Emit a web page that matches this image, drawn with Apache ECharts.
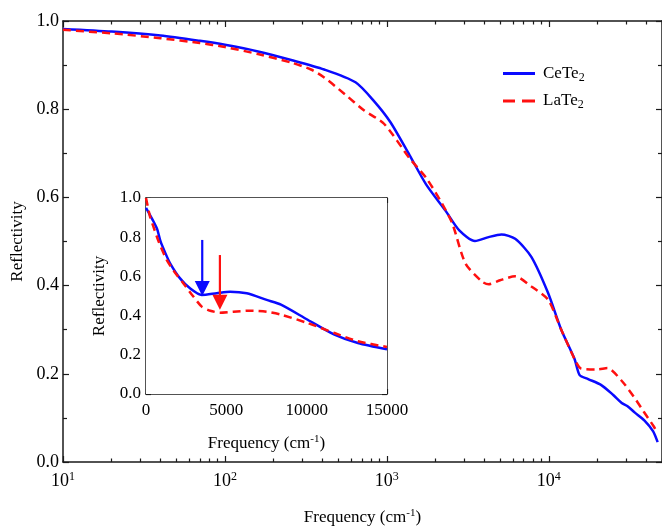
<!DOCTYPE html>
<html><head><meta charset="utf-8">
<script src="https://cdn.jsdelivr.net/npm/echarts@6/dist/echarts.min.js"></script>
<style>html,body{margin:0;padding:0;background:#fff}#c{width:662px;height:531px}</style>
</head><body><div id="c"></div>
<script>
// ---- Main panel (log frequency axis) ----
const ceFreq = [10, 20, 40, 70, 100, 160, 260, 410, 640, 830, 1050, 1380, 1750, 2300, 2800, 3500, 4250, 5100, 6200, 7800, 9900, 11900, 14400, 15500, 17500, 21000, 25000, 28200, 30500, 34000, 39000, 44000, 47000];
const ceRefl = [0.982, 0.976, 0.967, 0.955, 0.946, 0.931, 0.911, 0.890, 0.861, 0.819, 0.771, 0.696, 0.629, 0.570, 0.525, 0.501, 0.510, 0.516, 0.506, 0.465, 0.383, 0.301, 0.234, 0.197, 0.188, 0.175, 0.152, 0.134, 0.127, 0.112, 0.094, 0.070, 0.045];
const laFreq = [10, 20, 40, 70, 100, 160, 260, 340, 410, 550, 725, 960, 1380, 1750, 2200, 2540, 3060, 3870, 4250, 5000, 6200, 7800, 9900, 11900, 14400, 15800, 19900, 23000, 27900, 33500, 38600, 44400, 47000];
const laRefl = [0.980, 0.972, 0.961, 0.950, 0.941, 0.925, 0.905, 0.890, 0.872, 0.834, 0.797, 0.767, 0.689, 0.644, 0.585, 0.540, 0.450, 0.409, 0.403, 0.412, 0.421, 0.398, 0.368, 0.301, 0.234, 0.212, 0.210, 0.213, 0.186, 0.148, 0.114, 0.081, 0.065];

// ---- Inset panel (linear frequency axis) ----
const ceInsetFreq = [0, 200, 500, 700, 900, 1200, 1500, 2120, 2740, 3470, 4400, 5230, 6270, 7510, 8400, 10060, 11730, 13190, 15000];
const ceInsetRefl = [0.950, 0.920, 0.875, 0.840, 0.780, 0.720, 0.667, 0.590, 0.539, 0.505, 0.514, 0.522, 0.514, 0.480, 0.456, 0.379, 0.303, 0.260, 0.228];
const laInsetFreq = [0, 250, 460, 800, 1290, 1800, 2320, 2950, 3470, 4000, 4600, 5440, 6480, 7510, 8400, 10060, 11730, 13190, 15000];
const laInsetRefl = [1.000, 0.905, 0.854, 0.775, 0.684, 0.620, 0.565, 0.497, 0.446, 0.425, 0.415, 0.420, 0.425, 0.420, 0.405, 0.362, 0.311, 0.269, 0.240];

// arrows in inset
const arrowFreq = [3500, 4600];
const arrowFrom = [0.786, 0.709];
const arrowTo = [0.500, 0.430];

// tick values
const mainMajorX = [10, 100, 1000, 10000];
const mainMinorX = [20,30,40,50,60,70,80,90,200,300,400,500,600,700,800,900,2000,3000,4000,5000,6000,7000,8000,9000,20000,30000,40000,50000];
const seriesNames = ['CeTe2', 'LaTe2'];

const BLUE = '#0a0aff', RED = '#ff1010';
const FONT = 'Liberation Serif';
const AX = '#1a1a1a';
const supRich = { sup: { fontSize: 12, fontFamily: FONT, color: '#000', verticalAlign: 'top', padding: [0, 0, 8, 0] }, n: { fontSize: 18, fontFamily: FONT, color: '#000' } };
const supRichSm = { sup: { fontSize: 11, fontFamily: FONT, color: '#000', verticalAlign: 'top', padding: [0, 0, 8, 0] } };

function zip(a, b) { return a.map((v, i) => [v, b[i]]); }

function logAxis(pos, ticks, len, labels, line) {
  return {
    type: 'log', logBase: 10, min: 10, max: 50000, gridIndex: 0, position: pos,
    axisLine: { show: line, onZero: false, lineStyle: { color: AX, width: 1.5 } },
    axisTick: { show: true, inside: true, length: len, customValues: ticks, lineStyle: { color: AX, width: 1.2 } },
    axisLabel: labels ? {
      show: true, customValues: ticks, margin: 9, fontSize: 18, fontFamily: FONT, color: '#000',
      formatter: v => '{n|10}{sup|' + Math.round(Math.log10(v)) + '}', rich: supRich
    } : { show: false },
    splitLine: { show: false }, minorTick: { show: false }
  };
}

const xAxes = [
  Object.assign(logAxis('bottom', mainMajorX, 6, true, true), {
    name: 'Frequency (cm{sup|-1})', nameLocation: 'middle', nameGap: 46,
    nameTextStyle: { fontSize: 17, fontFamily: FONT, color: '#000', rich: supRichSm }
  }),
  logAxis('bottom', mainMinorX, 3.5, false, false),
  logAxis('top', mainMajorX, 6, false, true),
  logAxis('top', mainMinorX, 3.5, false, false),
  {
    type: 'value', gridIndex: 1, min: 0, max: 15000, interval: 5000, position: 'bottom',
    axisLine: { onZero: false, lineStyle: { color: AX, width: 1.5 } },
    axisTick: { inside: true, length: 5, lineStyle: { color: AX, width: 1.2 } },
    minorTick: { show: true, splitNumber: 2, length: 5, lineStyle: { color: AX, width: 1.2 } },
    axisLabel: { margin: 8, fontSize: 17, fontFamily: FONT, color: '#000', formatter: v => String(v) },
    splitLine: { show: false },
    name: 'Frequency (cm{sup|-1})', nameLocation: 'middle', nameGap: 40,
    nameTextStyle: { fontSize: 17, fontFamily: FONT, color: '#000', rich: supRichSm }
  },
  {
    type: 'value', gridIndex: 1, min: 0, max: 15000, interval: 5000, position: 'top',
    axisLine: { onZero: false, lineStyle: { color: AX, width: 1.5 } },
    axisTick: { inside: true, length: 5, lineStyle: { color: AX, width: 1.2 } },
    minorTick: { show: true, splitNumber: 2, length: 5, lineStyle: { color: AX, width: 1.2 } },
    axisLabel: { show: false }, splitLine: { show: false }
  }
];

function yAxis(grid, pos, labels, name, nameGap, fs, margin, majorLen, minorLen) {
  const o = {
    type: 'value', gridIndex: grid, min: 0, max: 1, interval: 0.2, position: pos,
    axisLine: { onZero: false, lineStyle: { color: AX, width: 1.5 } },
    axisTick: { inside: true, length: majorLen, lineStyle: { color: AX, width: 1.2 } },
    minorTick: { show: true, splitNumber: 2, length: minorLen, lineStyle: { color: AX, width: 1.2 } },
    axisLabel: labels ? { margin: margin, fontSize: fs, fontFamily: FONT, color: '#000', formatter: v => v.toFixed(1) } : { show: false },
    splitLine: { show: false }
  };
  if (name) {
    o.name = name; o.nameLocation = 'middle'; o.nameGap = nameGap;
    o.nameTextStyle = { fontSize: 17, fontFamily: FONT, color: '#000' };
  }
  return o;
}

const yAxes = [
  yAxis(0, 'left', true, 'Reflectivity', 37, 18, 4, 6, 4),
  yAxis(0, 'right', false, null, 0, 0, 0, 6, 4),
  yAxis(1, 'left', true, 'Reflectivity', 38, 17, 5, 5, 5),
  yAxis(1, 'right', false, null, 0, 0, 0, 5, 5)
];

const lineBase = { type: 'line', symbol: 'none', smooth: 0.25, z: 3 };

const option = {
  backgroundColor: '#fff',
  animation: false,
  grid: [
    { left: 63, top: 21, right: -5, bottom: 63 },
    { left: 146, top: 198, width: 241, height: 196, show: true, backgroundColor: '#fff', borderWidth: 0, z: 1 }
  ],
  xAxis: xAxes,
  yAxis: yAxes,
  legend: {
    data: [
      { name: seriesNames[0], icon: 'path://M0,0H32V3H0Z' },
      { name: seriesNames[1], icon: 'path://M0,0H12V3H0ZM19,0H32V3H19Z' }
    ],
    orient: 'vertical', left: 498, top: 60,
    itemWidth: 32, itemHeight: 3, itemGap: 9,
    textStyle: { fontSize: 17, fontFamily: FONT, color: '#000', padding: [0, 0, 0, 3], rich: { sub: { fontSize: 12, fontFamily: FONT, color: '#000', verticalAlign: 'bottom', padding: [8, 0, 0, 0] } } },
    formatter: n => n.replace(/2$/, '{sub|2}'),
    selectedMode: false
  },
  series: [
    Object.assign({}, lineBase, { name: seriesNames[0], xAxisIndex: 0, yAxisIndex: 0, data: zip(ceFreq, ceRefl), lineStyle: { color: BLUE, width: 2.5 }, itemStyle: { color: BLUE } }),
    Object.assign({}, lineBase, { name: seriesNames[1], xAxisIndex: 0, yAxisIndex: 0, data: zip(laFreq, laRefl), lineStyle: { color: RED, width: 2.5, type: [8, 5] }, itemStyle: { color: RED } }),
    Object.assign({}, lineBase, { name: seriesNames[0], xAxisIndex: 4, yAxisIndex: 2, data: zip(ceInsetFreq, ceInsetRefl), lineStyle: { color: BLUE, width: 2.5 }, itemStyle: { color: BLUE }, z: 5 }),
    Object.assign({}, lineBase, { name: seriesNames[1], xAxisIndex: 4, yAxisIndex: 2, data: zip(laInsetFreq, laInsetRefl), lineStyle: { color: RED, width: 2.5, type: [8, 5] }, itemStyle: { color: RED }, z: 5 }),
    {
      type: 'custom', xAxisIndex: 4, yAxisIndex: 2, silent: true, z: 6,
      encode: { x: 0, y: 1 },
      data: arrowFreq.map((f, i) => [f, arrowFrom[i], arrowTo[i], i]),
      renderItem: function (params, api) {
        const x = api.value(0);
        const p0 = api.coord([x, api.value(1)]);
        const p1 = api.coord([x, api.value(2)]);
        const color = api.value(3) === 0 ? BLUE : RED;
        const hl = 15, hw = 7.5;
        return {
          type: 'group', children: [
            { type: 'line', shape: { x1: p0[0], y1: p0[1], x2: p1[0], y2: p1[1] - hl + 1 }, style: { stroke: color, lineWidth: 2.2 } },
            { type: 'polygon', shape: { points: [[p1[0] - hw, p1[1] - hl], [p1[0] + hw, p1[1] - hl], [p1[0], p1[1]]] }, style: { fill: color } }
          ]
        };
      }
    }
  ]
};

const chart = echarts.init(document.getElementById('c'), null, { renderer: 'canvas' });
chart.setOption(option);
</script>
</body></html>
